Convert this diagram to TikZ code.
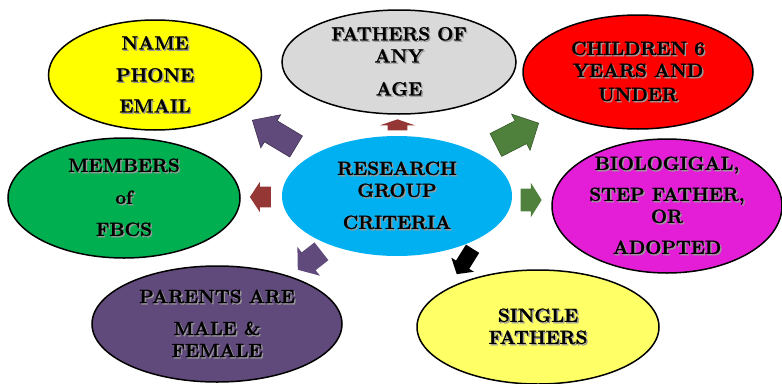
\documentclass[tikz,border=0pt]{standalone}
\usepackage{fontspec}
\usepackage{tikz}
\usetikzlibrary{shapes.geometric,shapes.arrows}

\newfontfamily\ovalfont{Latin Modern Roman}[FakeBold=1.2]

\definecolor{ovyellow}{HTML}{FFFF00}
\definecolor{ovgray}{HTML}{D9D9D9}
\definecolor{ovred}{HTML}{FF0000}
\definecolor{ovgreen}{HTML}{00B050}
\definecolor{ovblue}{HTML}{00B0F0}
\definecolor{ovmagenta}{HTML}{E41ED6}
\definecolor{ovpurple}{HTML}{604A7B}
\definecolor{ovlight}{HTML}{FFFF66}
\definecolor{arpurple}{HTML}{604A7B}
\definecolor{arpurpledark}{HTML}{3F3151}
\definecolor{arred}{HTML}{953735}
\definecolor{argreen}{HTML}{4F813D}
\definecolor{argreendark}{HTML}{375A2B}

\newcommand{\shd}[1]{\leavevmode\rlap{\kern1.4pt\raisebox{-1.4pt}{\color{black!40}#1}}#1}

\tikzset{
	oval/.style={ellipse, draw=black, line width=1.5pt, inner sep=0pt},
	ovaltext/.style={align=center, inner sep=0pt, font=\ovalfont\fontsize{19}{22}\selectfont\bfseries},
	fatarrow/.style={single arrow, inner xsep=0pt, line width=0.6pt, anchor=tip}
}

\begin{document}
\begin{tikzpicture}[x=1pt, y=-1pt]
		\useasboundingbox (0, 0) rectangle (782, 383);

		\node[oval, fill=ovyellow, minimum width=213pt, minimum height=110pt] (namebox) at (155, 75) {};
		\node[oval, fill=ovgray, minimum width=234pt, minimum height=104pt] (agebox) at (399, 62) {};
		\node[oval, fill=ovred, minimum width=230pt, minimum height=114pt] (childbox) at (638, 72) {};
		\node[oval, fill=ovgreen, minimum width=232pt, minimum height=120pt] (memberbox) at (124, 198) {};
		\node[ellipse, fill=ovblue, inner sep=0pt, minimum width=230pt, minimum height=120pt] (criteria) at (397, 196) {};
		\node[oval, fill=ovmagenta, minimum width=230pt, minimum height=134pt] (kindbox) at (667, 206) {};
		\node[oval, fill=ovpurple, minimum width=250pt, minimum height=116pt] (parentbox) at (217, 324) {};
		\node[oval, fill=ovlight, minimum width=242pt, minimum height=114pt] (singlebox) at (538, 327) {};

		\node[ovaltext] (namebox-t) at (namebox) {\shd{NAME}\\[10pt] \shd{PHONE}\\[9pt] \shd{EMAIL}};
		\node[ovaltext] (agebox-t) at (agebox) {\shd{FATHERS OF}\\ \shd{ANY}\\[11pt] \shd{AGE}};
		\node[ovaltext] (childbox-t) at (childbox) {\shd{CHILDREN 6}\\ \shd{YEARS AND}\\[2pt] \shd{UNDER}};
		\node[ovaltext] (memberbox-t) at (memberbox) {\shd{MEMBERS}\\[10pt] \shd{of}\\[10pt] \shd{FBCS}};
		\node[ovaltext] (criteria-t) at (criteria) {\shd{RESEARCH}\\ \shd{GROUP}\\[10pt] \shd{CRITERIA}};
		\node[ovaltext] (kindbox-t) at (kindbox) {\shd{BIOLOGIGAL,}\\[9pt] \shd{STEP FATHER,}\\ \shd{OR}\\[9pt] \shd{ADOPTED}};
		\node[ovaltext] (parentbox-t) at (parentbox) {\shd{PARENTS ARE}\\[10pt] \shd{MALE \&}\\ \shd{FEMALE}};
		\node[ovaltext] (singlebox-t) at (singlebox) {\shd{SINGLE}\\ \shd{FATHERS}};

		\node[fatarrow, fill=arpurple, draw=arpurpledark, minimum height=51pt, inner ysep=12pt,
			single arrow head extend=7pt, single arrow tip angle=84, rotate=149] (to-name) at (252, 120) {};
		\node[fatarrow, fill=arred, minimum height=11pt, inner ysep=9.5pt,
			single arrow head extend=8pt, single arrow tip angle=142, rotate=90] (to-age) at (397.5, 119) {};
		\node[fatarrow, fill=argreen, draw=argreendark, minimum height=48pt, inner ysep=12.5pt,
			single arrow head extend=7.5pt, single arrow tip angle=91, rotate=27] (to-child) at (539, 123) {};
		\node[fatarrow, fill=arred, minimum height=21pt, inner ysep=10pt,
			single arrow head extend=5pt, single arrow tip angle=113, rotate=180] (to-member) at (249.5, 197) {};
		\node[fatarrow, fill=argreen, minimum height=21pt, inner ysep=11pt,
			single arrow head extend=6pt, single arrow tip angle=116, rotate=0] (to-kind) at (542, 200) {};
		\node[fatarrow, fill=arpurple, minimum height=30pt, inner ysep=11pt,
			single arrow head extend=7pt, single arrow tip angle=106, rotate=218] (to-parent) at (297.5, 270) {};
		\node[fatarrow, fill=black, minimum height=30pt, inner ysep=7.5pt,
			single arrow head extend=5.5pt, single arrow tip angle=100, rotate=238] (to-single) at (456.5, 274.5) {};
	\end{tikzpicture}
\end{document}
